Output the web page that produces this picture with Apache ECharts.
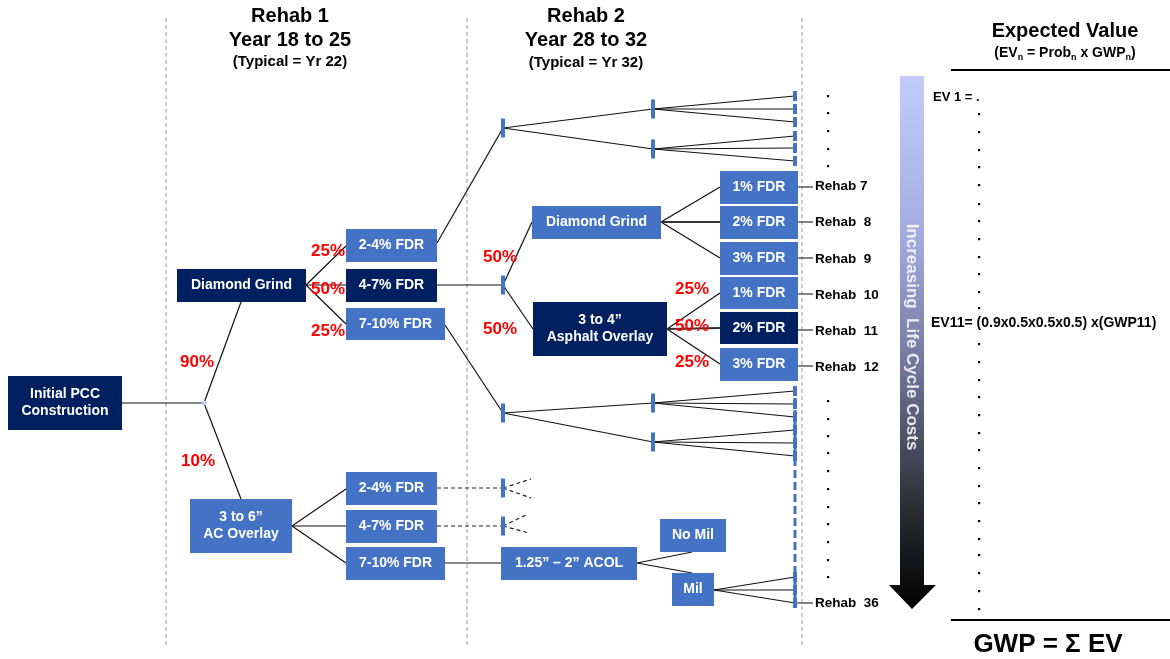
<!DOCTYPE html>
<html><head><meta charset="utf-8">
<script src="https://cdn.jsdelivr.net/npm/echarts@6/dist/echarts.min.js"></script>
<style>html,body{margin:0;padding:0;background:#fff}#c{width:1170px;height:659px}</style>
</head><body><div id="c"></div>
<script>
const FONT = '"Liberation Sans", Arial, sans-serif';

// ---- nodes (decision tree boxes) ----
const boxLabels = ['Initial PCC\nConstruction','Diamond Grind','2-4% FDR','4-7% FDR','7-10% FDR','3 to 6\u201d\nAC Overlay','2-4% FDR','4-7% FDR','7-10% FDR','Diamond Grind','3 to 4\u201d\nAsphalt Overlay','1% FDR','2% FDR','3% FDR','1% FDR','2% FDR','3% FDR','1.25\u201d \u2013 2\u201d ACOL','No Mil','Mil'];
const boxTone = ['dark','dark','mid','dark','mid','mid','mid','mid','mid','mid','dark','mid','mid','mid','mid','dark','mid','mid','mid','mid'];
const boxLeft   = [8,177,346,346,346,190,346,346,346,532,533,720,720,720,720,720,720,501,660,672];
const boxTop    = [376,269,229,269,308,499,472,510,547,206,302,171,206,242,277,312,348,547,519,573];
const boxRight  = [122,306,437,437,445,292,437,437,445,661,667,798,798,798,798,798,798,637,726,714];
const boxBottom = [430,302,262,302,340,553,505,543,580,239,356,204,239,275,309,344,381,580,552,606];

// ---- branches [x1,y1,x2,y2] ----
const solidEdges = [
  [122,403,204,403],[204,403,241,302],[204,403,241,499],
  [306,285,346,246],[306,285,346,285],[306,285,346,324],
  [292,526,346,489],[292,526,346,526],[292,526,346,563],
  [437,243,503,128],[503,128,653,109],[503,128,653,149],
  [653,109,795,96],[653,109,795,109],[653,109,795,122],
  [653,149,795,136],[653,149,795,148],[653,149,795,161],
  [437,285,503,285],[503,285,532,222],[503,285,533,329],
  [661,222,720,187],[661,222,720,258],
  [667,329,720,293],[667,329,720,364],
  [445,325,503,413],[503,413,653,403],[503,413,653,442],
  [653,403,795,391],[653,403,795,404],[653,403,795,417],
  [653,442,795,430],[653,442,795,443],[653,442,795,456],
  [445,563,501,563],[637,563,692,552],[637,563,692,573],
  [714,590,795,577],[714,590,795,590],[714,590,795,603]
];
const thickEdges = [[661,222,720,222],[667,329,720,328]];
const leaderEdges = [[798,187,813,187],[798,222,813,222],[798,258,813,258],[798,294,813,294],[798,330,813,330],[798,366,813,366],[795,603,813,603]];
const dashedEdges = [[437,488,503,488],[503,488,531,479],[503,488,531,498],[437,526,503,526],[503,526,528,514],[503,526,529,533]];

// ---- junction ticks ----
const bigTicks = [[503,128],[653,109],[653,149],[503,285],[503,413],[653,403],[653,442],[503,488],[503,526]];
const endTickY = [96,109,122,136,148,161,391,404,417,430,443,456,577,590,603];

// ---- probabilities ----
const probText = ['90%','10%','25%','50%','25%','50%','50%','25%','50%','25%'];
const probX = [197,198,328,328,328,500,500,692,692,692];
const probY = [362,461,251,289,331,257,329,289,326,362];

// ---- outcome labels ----
const rehabText = ['Rehab 7','Rehab  8','Rehab  9','Rehab  10','Rehab  11','Rehab  12','Rehab  36'];
const rehabY = [186,222,259,295,331,367,603];

// ---- continuation dots ----
const leftDotsY = [96,113,131,149,166,401,419,436,453,471,489,507,524,542,560,577];
const evDotsY = [114,132,150,167,185,204,221,239,257,274,292,308,344,362,380,397,415,433,450,468,486,503,521,539,555,573,591,609];

// ---- headings ----
const headText = ['Rehab 1','Year 18 to 25','(Typical = Yr 22)','Rehab 2','Year 28 to 32','(Typical = Yr 32)','Expected Value','(EV{s|n} = Prob{s|n} x GWP{s|n})','GWP = \u03a3 EV','EV 1 = .','EV11= (0.9x0.5x0.5x0.5) x(GWP11)'];
const headX = [290,290,290,586,586,586,1065,1065,1048,933,931];
const headY = [16,40,62,16,40,63,31,53,645,97,323];
const headSize = [20,20,15,20,20,15,20,14,26,13,14];
const headAlign = ['center','center','center','center','center','center','center','center','center','left','left'];

const C_DARK = '#002060', C_MID = '#4472C4';

function seg(api, e) {
  const a = api.coord([e[0], e[1]]), b = api.coord([e[2], e[3]]);
  return {x1:a[0], y1:a[1], x2:b[0], y2:b[1]};
}
function lineSeries(edges, style) {
  return {
    type:'custom', clip:false, silent:true, data: edges,
    renderItem: (p, api) => ({type:'line', shape: seg(api, edges[p.dataIndex]), style: Object.assign({fill:null}, style)})
  };
}

const chart = echarts.init(document.getElementById('c'), null, {renderer:'canvas'});
chart.setOption({
  animation:false,
  backgroundColor:'#ffffff',
  grid:{left:0,right:0,top:0,bottom:0},
  xAxis:{type:'value',min:0,max:1170,show:false},
  yAxis:{type:'value',min:0,max:659,inverse:true,show:false},
  series:[
    // column separators
    lineSeries([[166,18,166,645],[467,18,467,645],[802,18,802,647]], {stroke:'#9a9a9a', lineWidth:1, lineDash:[4,3]}),
    // expected value rules
    lineSeries([[951,70,1170,70],[951,620,1170,620]], {stroke:'#000', lineWidth:2}),
    // gradient arrow
    {
      type:'custom', clip:false, silent:true, data:[[912,76]],
      renderItem:(p, api) => {
        const pts = [[900,76],[924,76],[924,585],[936,585],[912,609],[889,585],[900,585]].map(q => api.coord(q));
        const mid = api.coord([912,337]);
        return {type:'group', children:[
          {type:'polygon', shape:{points:pts}, style:{fill:new echarts.graphic.LinearGradient(0,0,0,1,[
            {offset:0,color:'#C2CBFA'},{offset:0.3,color:'#A3ACDE'},{offset:0.55,color:'#70759A'},{offset:0.8,color:'#2E3038'},{offset:1,color:'#000000'}])}},
          {type:'text', x:mid[0], y:mid[1], rotation:-Math.PI/2, style:{text:'Increasing  Life Cycle Costs', fill:'rgba(255,255,255,0.85)', font:'bold 17px '+FONT, align:'center', verticalAlign:'middle'}}
        ]};
      }
    },
    // branches
    lineSeries(solidEdges, {stroke:'#111', lineWidth:1.2}),
    lineSeries(thickEdges, {stroke:'#333', lineWidth:2.2}),
    lineSeries(leaderEdges, {stroke:'#333', lineWidth:1.2}),
    lineSeries(dashedEdges, {stroke:'#222', lineWidth:1.2, lineDash:[4,3]}),
    // blue dashed end column
    lineSeries([[795,386,795,608]], {stroke:C_MID, lineWidth:3, lineDash:[8,4]}),
    // big ticks
    {
      type:'custom', clip:false, silent:true, data: bigTicks,
      renderItem:(p, api) => { const c = api.coord(bigTicks[p.dataIndex]); return {type:'rect', shape:{x:c[0]-2,y:c[1]-9.5,width:4,height:19}, style:{fill:C_MID}}; }
    },
    // end ticks
    {
      type:'custom', clip:false, silent:true, data: endTickY.map(y => [795,y]),
      renderItem:(p, api) => { const c = api.coord([795, endTickY[p.dataIndex]]); return {type:'rect', shape:{x:c[0]-2,y:c[1]-5,width:4,height:10}, style:{fill:C_MID}}; }
    },
    // first chance node dot
    {
      type:'custom', clip:false, silent:true, data:[[204,403]],
      renderItem:(p, api) => { const c = api.coord([204,403]); return {type:'circle', shape:{cx:c[0],cy:c[1],r:2.5}, style:{fill:'#BFC9F5'}}; }
    },
    // boxes
    {
      type:'custom', clip:false, silent:true,
      data: boxLeft.map((x,i) => [x, boxTop[i], boxRight[i], boxBottom[i]]),
      renderItem:(p, api) => {
        const i = p.dataIndex;
        const a = api.coord([api.value(0), api.value(1)]), b = api.coord([api.value(2), api.value(3)]);
        return {type:'group', children:[
          {type:'rect', shape:{x:a[0],y:a[1],width:b[0]-a[0],height:b[1]-a[1]}, style:{fill: boxTone[i]==='dark'?C_DARK:C_MID}},
          {type:'text', x:(a[0]+b[0])/2, y:(a[1]+b[1])/2, style:{text:boxLabels[i], fill:'#fff', font:'bold 14px '+FONT, align:'center', verticalAlign:'middle', lineHeight:17}}
        ]};
      }
    },
    // probabilities
    {
      type:'custom', clip:false, silent:true, data: probX.map((x,i)=>[x,probY[i]]),
      renderItem:(p, api) => { const c = api.coord([api.value(0), api.value(1)]); return {type:'text', x:c[0], y:c[1], style:{text:probText[p.dataIndex], fill:'#FF0000', font:'bold 17px '+FONT, align:'center', verticalAlign:'middle'}}; }
    },
    // rehab labels
    {
      type:'custom', clip:false, silent:true, data: rehabY.map(y=>[815,y]),
      renderItem:(p, api) => { const c = api.coord([api.value(0), api.value(1)]); return {type:'text', x:c[0], y:c[1], style:{text:rehabText[p.dataIndex], fill:'#000', font:'bold 13.5px '+FONT, align:'left', verticalAlign:'middle'}}; }
    },
    // dots
    {
      type:'custom', clip:false, silent:true, data: leftDotsY.map(y=>[828,y]).concat(evDotsY.map(y=>[979,y])),
      renderItem:(p, api) => { const c = api.coord([api.value(0), api.value(1)]); return {type:'rect', shape:{x:c[0]-1,y:c[1]-1,width:2.2,height:2.2}, style:{fill:'#000'}}; }
    },
    // headings and formulas
    {
      type:'custom', clip:false, silent:true, data: headX.map((x,i)=>[x,headY[i]]),
      renderItem:(p, api) => {
        const i = p.dataIndex; const c = api.coord([api.value(0), api.value(1)]);
        const sz = headSize[i];
        return {type:'text', x:c[0], y:c[1], style:{
          text:headText[i], fill:'#000', font:'bold '+sz+'px '+FONT, align:headAlign[i], verticalAlign:'middle',
          lineHeight: sz+4,
          rich:{s:{fontSize:9, fontWeight:'bold', fontFamily:FONT, lineHeight:9, verticalAlign:'bottom', fill:'#000'}}
        }};
      }
    }
  ]
});
</script></body></html>
